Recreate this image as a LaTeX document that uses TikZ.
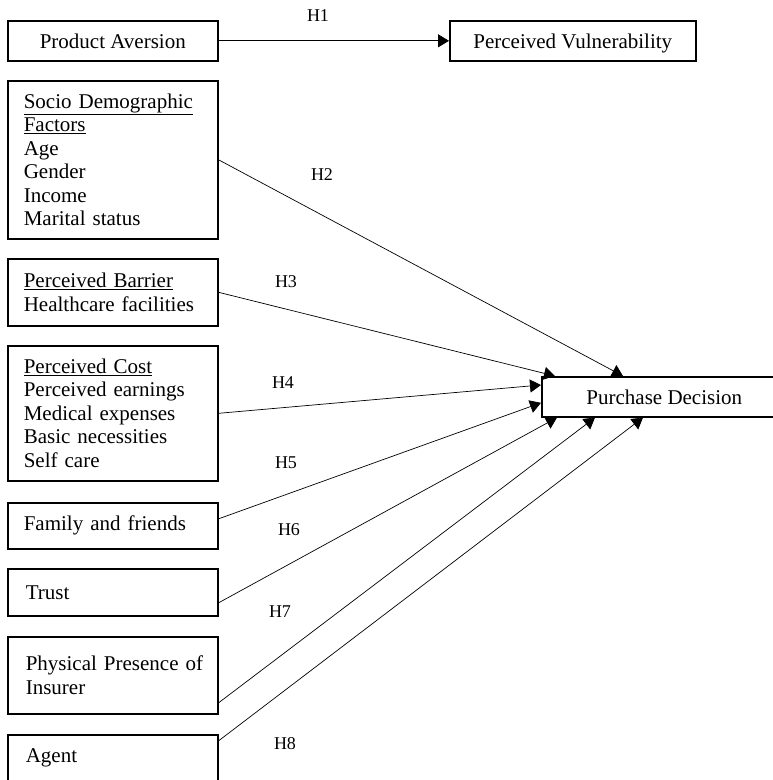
\documentclass[tikz,border=0pt]{standalone}
\usepackage{fontspec}
\setmainfont{Liberation Serif}
\usetikzlibrary{arrows.meta, positioning, calc}

\tikzset{
    factor/.style={draw, line width=1.6pt, anchor=north west, inner xsep=16pt, inner ysep=0pt,
        text width=178pt, align=left, font=\fontsize{21}{23.5}\selectfont},
    single/.style={draw, line width=1.6pt, anchor=north west, inner sep=0pt, align=center,
        text height=15pt, text depth=0pt, font=\fontsize{21}{23.5}\selectfont},
    hyp/.style={inner sep=0pt, font=\fontsize{18}{20}\selectfont},
    link/.style={line width=0.7pt, -{Triangle[length=11pt,width=13pt]}}
}

\begin{document}
\begin{tikzpicture}[x=1pt,y=-1pt]
\useasboundingbox (0,0) rectangle (773,780);

\node[single, minimum width=210pt, minimum height=40pt] (aversion) at (7,20) {Product Aversion};
\node[single, minimum width=246pt, minimum height=40pt] (vulner) at (449,20) {Perceived Vulnerability};
\node[single, minimum width=233pt, minimum height=40pt] (decision) at (541,376) {\hspace*{12pt}Purchase Decision};

\node[factor, minimum height=158pt] (socio) at (7,80)
    {\underline{Socio Demographic}\\\underline{Factors}\\Age\\Gender\\Income\\Marital status};
\node[factor, minimum height=67pt] (barrier) at (7,258)
    {\underline{Perceived Barrier}\\Healthcare facilities};
\node[factor, minimum height=135pt] (cost) at (7,345)
    {\underline{Perceived Cost}\\Perceived earnings\\Medical expenses\\Basic necessities\\Self care};
\node[factor, minimum height=46pt] (family) at (7,502) {Family and friends};
\node[factor, minimum height=47pt] (trust) at (7,568) {\hspace*{2pt}Trust};
\node[factor, minimum height=77pt] (presence) at (7,636)
    {\mbox{\hspace*{2pt}Physical Presence of}\\\hspace*{2pt}Insurer};
\node[factor, minimum height=47pt] (agent) at (7,734) {\hspace*{2pt}Agent};

\node[hyp] (h1) at (318,16) {H1};
\node[hyp] (h2) at (322,175) {H2};
\node[hyp] (h3) at (286,282) {H3};
\node[hyp] (h4) at (283,383) {H4};
\node[hyp] (h5) at (286,463) {H5};
\node[hyp] (h6) at (289,530) {H6};
\node[hyp] (h7) at (280,612) {H7};
\node[hyp] (h8) at (285,744) {H8};

\draw[link, line width=0.9pt] (aversion.east) -- (vulner.west);
\draw[link] (socio.east) -- ([xshift=82pt]decision.north west);
\draw[link] (barrier.east) -- ([xshift=14pt]decision.north west);
\draw[link] (cost.east) -- ([yshift=-9pt]decision.north west);
\draw[link] ([yshift=7pt]family.east) -- ([yshift=-6pt]decision.west);
\draw[link] ([yshift=-10.5pt]trust.east) -- ([xshift=16pt]decision.south west);
\draw[link] ([yshift=-27.5pt]presence.east) -- ([xshift=54pt]decision.south west);
\draw[link] ([yshift=17.5pt]agent.east) -- ([xshift=102pt]decision.south west);
\end{tikzpicture}
\end{document}
